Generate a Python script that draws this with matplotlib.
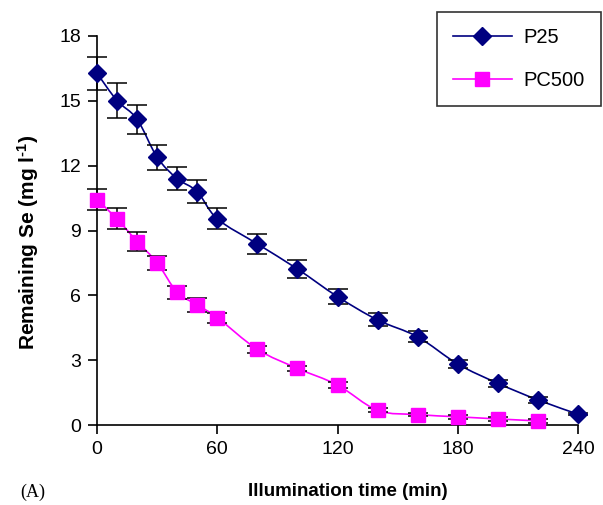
import numpy as np
import matplotlib
matplotlib.use("Agg")
import matplotlib.pyplot as plt
from matplotlib.path import Path
from matplotlib.patches import PathPatch
from matplotlib.lines import Line2D

plt.rcParams['font.family'] = ['Liberation Sans', 'DejaVu Sans']
plt.rcParams['mathtext.fontset'] = 'custom'
plt.rcParams['mathtext.rm'] = 'Liberation Sans:bold'
plt.rcParams['mathtext.bf'] = 'Liberation Sans:bold'
plt.rcParams['mathtext.it'] = 'Liberation Sans:bold'

time_min = [0, 10, 20, 30, 40, 50, 60, 80, 100, 120, 140, 160, 180, 200, 220, 240]
p25 = [16.28, 15.01, 14.15, 12.39, 11.40, 10.80, 9.54, 8.38, 7.22, 5.94, 4.86, 4.08, 2.82, 1.93, 1.16, 0.50]
p25_err = [0.77, 0.80, 0.68, 0.57, 0.54, 0.52, 0.49, 0.45, 0.40, 0.35, 0.30, 0.25, 0.20, 0.15, 0.15, 0.05]
time_pc = [0, 10, 20, 30, 40, 50, 60, 80, 100, 120, 140, 160, 180, 200, 220]
pc500 = [10.42, 9.54, 8.49, 7.51, 6.14, 5.56, 4.97, 3.50, 2.62, 1.85, 0.68, 0.48, 0.38, 0.28, 0.19]
pc500_err = [0.48, 0.49, 0.44, 0.33, 0.30, 0.31, 0.23, 0.15, 0.12, 0.12, 0.10, 0.08, 0.08, 0.08, 0.08]
x_ticks = [0, 60, 120, 180, 240]
y_ticks = [0, 3, 6, 9, 12, 15, 18]

NAVY = '#000080'
MAGENTA = '#FF00FF'

fig = plt.figure(figsize=(6.03, 5.05), dpi=100)
ax = fig.add_axes([97/603, 1-425/505, 481/603, 389/505])


def smooth_path(xs, ys):
    xs = np.asarray(xs, float)
    ys = np.asarray(ys, float)
    pts = np.column_stack([xs, ys])
    n = len(pts)
    verts = [pts[0]]
    codes = [Path.MOVETO]
    for i in range(n - 1):
        p0 = pts[i - 1] if i > 0 else pts[i]
        p1 = pts[i]
        p2 = pts[i + 1]
        p3 = pts[i + 2] if i + 2 < n else pts[i + 1]
        c1 = p1 + (p2 - p0) / 6.0
        c2 = p2 - (p3 - p1) / 6.0
        verts += [c1, c2, p2]
        codes += [Path.CURVE4] * 3
    return Path(verts, codes)


for xs, ys, c in [(time_min, p25, NAVY), (time_pc, pc500, MAGENTA)]:
    ax.add_patch(PathPatch(smooth_path(xs, ys), fill=False, edgecolor=c, lw=1.2, zorder=2))

ax.errorbar(time_min, p25, yerr=p25_err, fmt='none', ecolor='black', elinewidth=1.1,
            capsize=7.5, capthick=1.1, zorder=3, clip_on=False)
ax.errorbar(time_pc, pc500, yerr=pc500_err, fmt='none', ecolor='black', elinewidth=1.1,
            capsize=7.5, capthick=1.1, zorder=3, clip_on=False)

ax.plot(time_min, p25, linestyle='none', marker='D', markersize=9, color=NAVY,
        markeredgecolor=NAVY, zorder=4, clip_on=False)
ax.plot(time_pc, pc500, linestyle='none', marker='s', markersize=10, color=MAGENTA,
        markeredgecolor=MAGENTA, zorder=4, clip_on=False)

ax.set_xlim(0, 240)
ax.set_ylim(0, 18)
ax.set_xticks(x_ticks)
ax.set_yticks(y_ticks)
ax.tick_params(direction='out', length=6.5, width=1.2, labelsize=14, pad=5)
for s in ['top', 'right']:
    ax.spines[s].set_visible(False)
for s in ['left', 'bottom']:
    ax.spines[s].set_linewidth(1.2)

fig.text(348/603, 1-492/505, 'Illumination time (min)', fontsize=13.5, fontweight='bold',
         ha='center', va='center')
fig.text(28/603, 1-242/505, 'Remaining Se (mg l$^{\\text{-1}}$)', fontsize=15,
         fontweight='bold', ha='center', va='center', rotation=90)

fig.text(20/603, 1-492/505, '(A)', fontsize=13, family='Liberation Serif', va='center', ha='left')

handles = [
    Line2D([], [], color=NAVY, lw=1.2, marker='D', markersize=9),
    Line2D([], [], color=MAGENTA, lw=1.2, marker='s', markersize=10),
]
leg = fig.legend(handles, ['P25', 'PC500'], loc='upper left',
                 bbox_to_anchor=(437/603, 1-12/505), fontsize=14.5, frameon=True,
                 fancybox=False, edgecolor='black', handlelength=2.9, handletextpad=0.6,
                 handleheight=0.7, labelspacing=1.2, borderpad=0.8, borderaxespad=0)
leg.get_frame().set_linewidth(1.2)

fig.savefig('out.png', dpi=100)
